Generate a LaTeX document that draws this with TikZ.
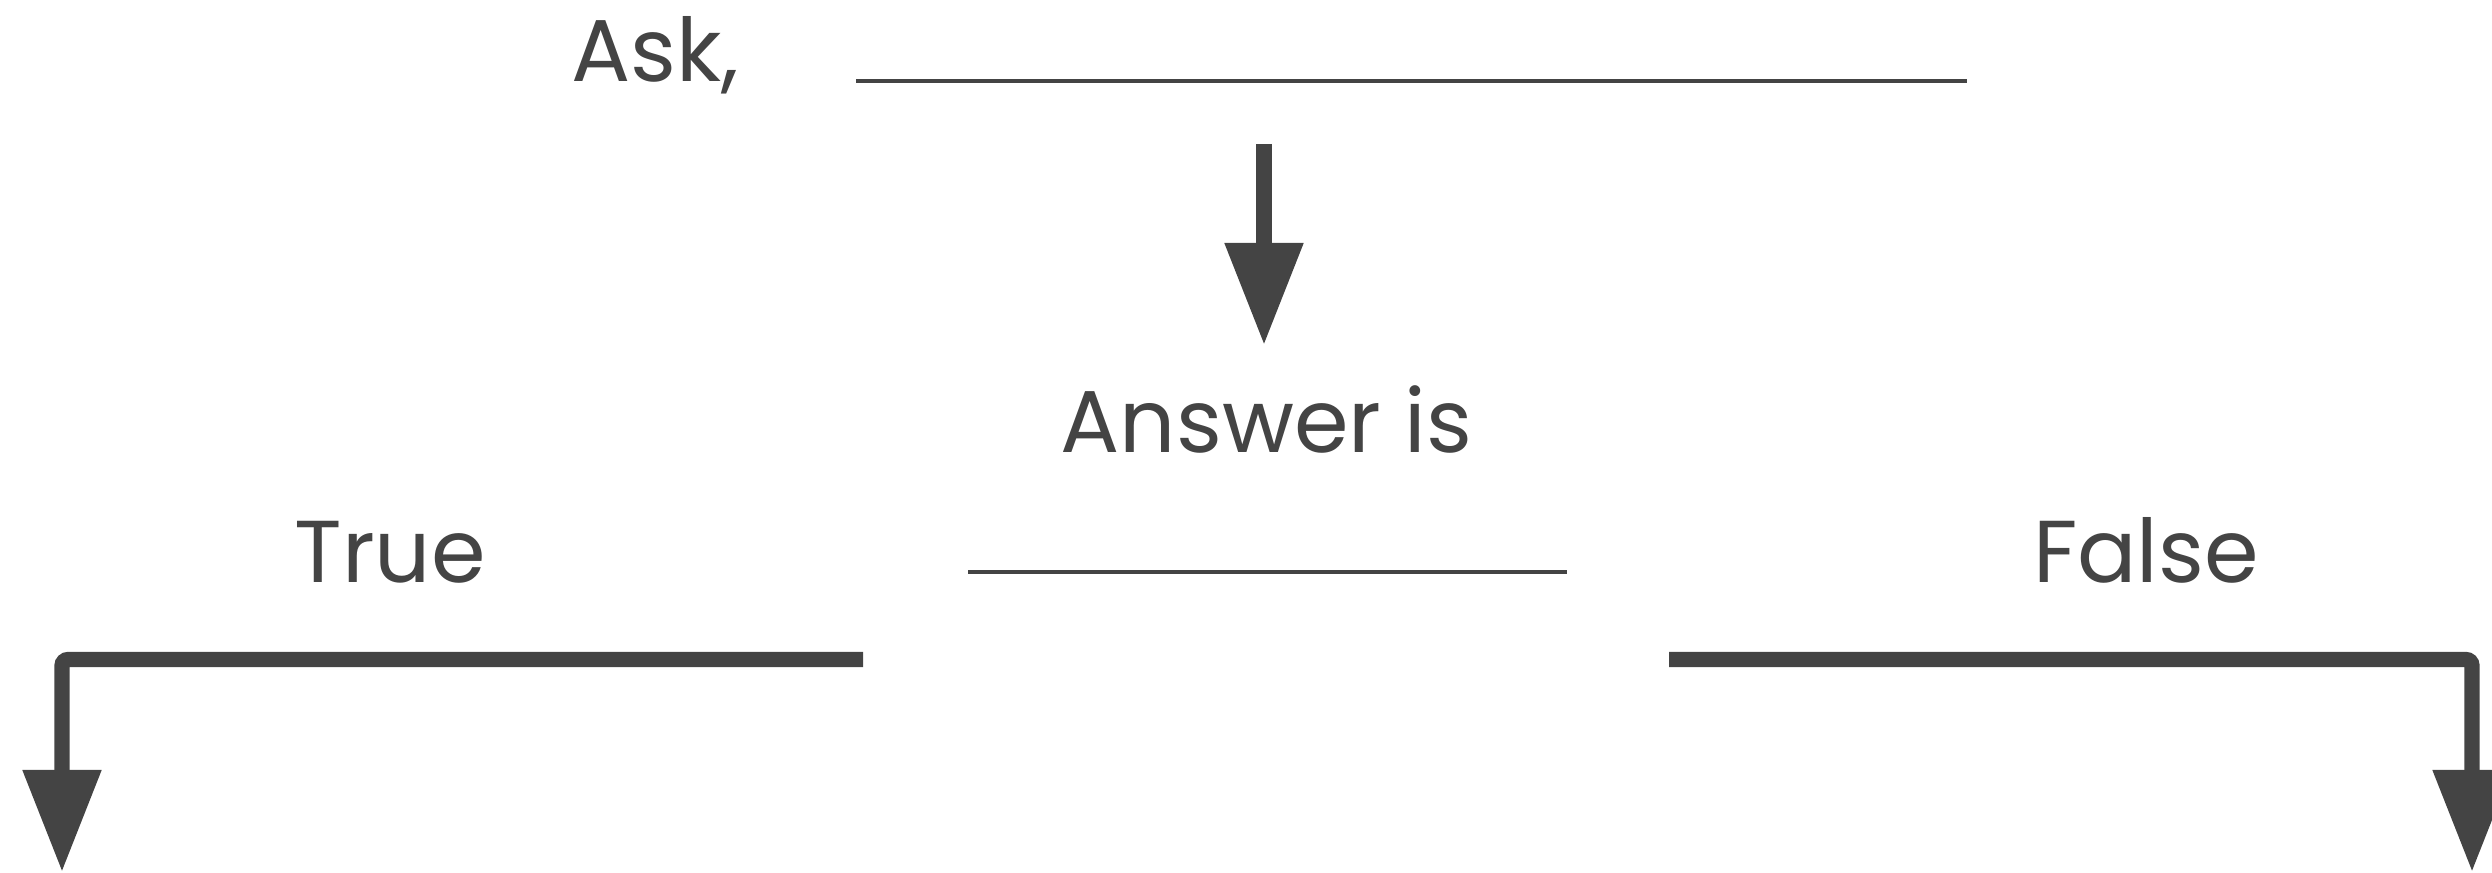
\documentclass[tikz,border=0pt]{standalone}
\usepackage{fontspec}
\setmainfont{Poppins}
\usetikzlibrary{arrows.meta}
\definecolor{ink}{HTML}{444444}
\begin{document}
\begin{tikzpicture}[
  word/.style={inner sep=0pt, anchor=base, text=ink, font=\fontsize{25}{30}\selectfont},
  blank/.style={draw=ink, line width=1.2pt},
  arrow/.style={draw=ink, line width=4.3pt, rounded corners=0.06cm, -{Triangle[width=0.75cm, length=1.02cm]}}
]
\useasboundingbox (0,0) rectangle (24.92,8.72);
\node[word] (ask) at (6.555,7.90) {Ask,};
\coordinate (askL) at (8.56,7.91);
\coordinate (askR) at (19.67,7.91);
\coordinate (down) at (12.64,7.28);
\node[word] (answer) at (12.665,4.19) {Answer is};
\coordinate (ansL) at (9.68,3.00);
\coordinate (ansR) at (15.67,3.00);
\node[word] (true) at (3.90,2.89) {True};
\node[word] (false) at (21.46,2.89) {False};
\coordinate (leftS) at (8.63,2.125);
\coordinate (leftE) at (0.62,0);
\coordinate (rightS) at (16.69,2.125);
\coordinate (rightE) at (24.72,0);

\draw[blank] (askL) -- (askR);
\draw[blank] (ansL) -- (ansR);
\draw[arrow] (down) -- (12.64,5.27);
\draw[arrow] (leftS) -| (leftE);
\draw[arrow] (rightS) -| (rightE);
\end{tikzpicture}
\end{document}
